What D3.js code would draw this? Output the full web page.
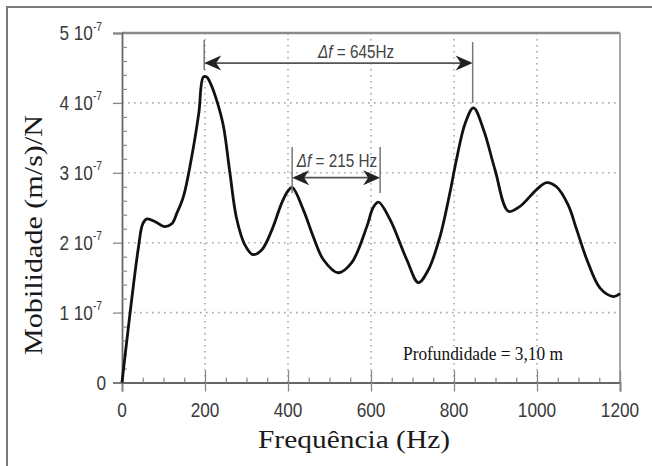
<!DOCTYPE html>
<html><head><meta charset="utf-8">
<script src="https://cdn.jsdelivr.net/npm/d3@7"></script>
<style>body{margin:0;background:#fff}svg{display:block}</style>
</head><body>
<script>
// ---- data ----
const freqHz = [0,40,50,60,80,102,120,132,148,168,185,196,204,214,228,244,260,276,296,315,337,361,385,400,410,437,460,485,521,553,590,605,618,646,686,714,738,766,790,806,827,847,871,899,931,959,999,1023,1047,1075,1096,1120,1152,1184,1200];
const mobility_e7 = [0,1.95,2.27,2.34,2.30,2.23,2.27,2.42,2.66,3.23,3.85,4.37,4.37,4.27,4.04,3.68,3.0,2.35,1.97,1.83,1.90,2.18,2.57,2.74,2.79,2.47,2.1,1.76,1.57,1.71,2.23,2.50,2.58,2.33,1.76,1.43,1.61,2.08,2.71,3.19,3.71,3.93,3.62,3.04,2.45,2.52,2.76,2.86,2.80,2.54,2.18,1.76,1.35,1.23,1.27];
const xTicks = [0,200,400,600,800,1000,1200];
const yTicks = [0,1,2,3,4,5];
const xTitle = "Frequência (Hz)";
const yTitle = "Mobilidade (m/s)/N";
const note = "Profundidade = 3,10 m";
// annotations (frequencies in Hz, levels in 1e-7 units)
const annFreqs = [[198,845],[410,622]];
const annLabels = ["645Hz","215 Hz"];
const annArrowY = [4.57,2.93];
const annLeftSpan = [[4.9,4.47],[3.37,2.71]];
const annRightSpan = [[4.87,4.0],[3.37,2.71]];

const W=652,H=466;
const svg=d3.select("body").append("svg").attr("width",W).attr("height",H);
const x=d3.scaleLinear().domain([0,1200]).range([122,620]);
const y=d3.scaleLinear().domain([0,5]).range([382.5,33]);

// outer frame
svg.append("rect").attr("x",7).attr("y",7).attr("width",700).attr("height",500)
  .attr("fill","none").attr("stroke","#7a7a7a").attr("stroke-width",2);

// grid
const grid=svg.append("g").attr("stroke","#a8a8a8").attr("stroke-width",1.6).attr("stroke-dasharray","1.6,4.4");
grid.selectAll("line.v").data(xTicks.filter(d=>d>0&&d<1200)).join("line")
  .attr("x1",d=>x(d)).attr("x2",d=>x(d)).attr("y1",y(5)).attr("y2",y(0));
grid.selectAll("line.h").data(yTicks.filter(d=>d>0&&d<5)).join("line")
  .attr("x1",x(0)).attr("x2",x(1200)).attr("y1",d=>y(d)).attr("y2",d=>y(d));

// frame lines
svg.append("line").attr("x1",x(0)).attr("x2",x(1200)).attr("y1",y(5)).attr("y2",y(5))
  .attr("stroke","#8a8a8a").attr("stroke-width",2.5);
svg.append("line").attr("x1",x(1200)).attr("x2",x(1200)).attr("y1",y(5)).attr("y2",y(0))
  .attr("stroke","#8a8a8a").attr("stroke-width",1.5);

// axes via d3
const xAxis=d3.axisBottom(x).tickValues(xTicks).tickSize(9).tickFormat("");
const gx=svg.append("g").attr("transform",`translate(0,${y(0)})`).call(xAxis);
gx.select(".domain").attr("stroke","#666").attr("stroke-width",1.8);
gx.selectAll(".tick line").attr("stroke","#888").attr("stroke-width",1.3).attr("y1",-12);
const xMinor=d3.axisBottom(x).tickValues(d3.range(50,1200,50).filter(d=>d%200!==0)).tickSize(-5).tickFormat("");
const gxm=svg.append("g").attr("transform",`translate(0,${y(0)})`).call(xMinor);
gxm.select(".domain").remove();gxm.selectAll(".tick line").attr("stroke","#888").attr("stroke-width",1.2);

const yAxis=d3.axisLeft(y).tickValues(yTicks).tickSize(9).tickFormat("");
const gy=svg.append("g").attr("transform",`translate(${x(0)},0)`).call(yAxis);
gy.select(".domain").attr("stroke","#666").attr("stroke-width",1.8);
gy.selectAll(".tick line").attr("stroke","#888").attr("stroke-width",1.3);
const yMinor=d3.axisLeft(y).tickValues(d3.range(0.2,5,0.2).filter(d=>Math.abs(d-Math.round(d))>0.01)).tickSize(-5).tickFormat("");
const gym=svg.append("g").attr("transform",`translate(${x(0)},0)`).call(yMinor);
gym.select(".domain").remove();gym.selectAll(".tick line").attr("stroke","#888").attr("stroke-width",1.2);

// tick labels (narrowed sans)
const sans="Liberation Sans, Arial, sans-serif";
const serif="'Liberation Serif', 'Times New Roman', serif";
svg.append("g").selectAll("g").data(xTicks).join("g")
  .attr("transform",d=>`translate(${x(d)},417) scale(0.82,1)`)
  .append("text").attr("text-anchor","middle").attr("font-family",sans).attr("font-size",21)
  .attr("fill","#3a3a3a").text(d=>d);
const yl=svg.append("g").selectAll("g").data(yTicks).join("g")
  .attr("transform",d=>`translate(${d===0?106:102},${y(d)+7}) scale(0.82,1)`)
  .append("text").attr("text-anchor","end").attr("font-family",sans).attr("font-size",21).attr("fill","#3a3a3a");
yl.each(function(d){
  const t=d3.select(this);
  if(d===0){t.text("0");return;}
  t.append("tspan").text(d+" 10");
  t.append("tspan").attr("font-size",12.5).attr("dy",-9.5).text("-7");
});

// curve
const pts=freqHz.map((f,i)=>[f,mobility_e7[i]]);
svg.append("path").datum(pts)
  .attr("d",d3.line().x(d=>x(d[0])).y(d=>y(d[1])).curve(d3.curveCatmullRom.alpha(0.5)))
  .attr("fill","none").attr("stroke","#111").attr("stroke-width",2.8).attr("stroke-linejoin","round");

// annotations
function head(px,py,dir){
  const L=17,h=7.5,n=5;
  return `M${px},${py} L${px+dir*L},${py-h} L${px+dir*(L-n)},${py} L${px+dir*L},${py+h} Z`;
}
annFreqs.forEach((ff,i)=>{
  const g=svg.append("g");
  const x1=x(ff[0]),x2=x(ff[1]),ay=y(annArrowY[i]);
  g.append("line").attr("x1",x1).attr("x2",x1).attr("y1",y(annLeftSpan[i][0])).attr("y2",y(annLeftSpan[i][1]))
    .attr("stroke","#777").attr("stroke-width",1.5);
  g.append("line").attr("x1",x2).attr("x2",x2).attr("y1",y(annRightSpan[i][0])).attr("y2",y(annRightSpan[i][1]))
    .attr("stroke","#777").attr("stroke-width",1.5);
  g.append("line").attr("x1",x1+10).attr("x2",x2-10).attr("y1",ay).attr("y2",ay)
    .attr("stroke","#555").attr("stroke-width",1.8);
  g.append("path").attr("d",head(x1,ay,1)).attr("fill","#222");
  g.append("path").attr("d",head(x2,ay,-1)).attr("fill","#222");
  const tg=g.append("g").attr("transform",`translate(${i===0?356:337},${ay-(i===0?5:11)}) scale(0.85,1)`);
  const t=tg.append("text").attr("text-anchor","middle").attr("font-family",sans).attr("font-size",18).attr("fill","#444");
  t.append("tspan").attr("font-style","italic").text("Δf");
  t.append("tspan").text(" = "+annLabels[i]);
});

// note
svg.append("text").attr("x",403).attr("y",360).attr("font-family",serif)
  .attr("font-size",18).attr("textLength",160).attr("lengthAdjust","spacingAndGlyphs").attr("fill","#111").text(note);

// axis titles
svg.append("text").attr("x",258).attr("y",448).attr("font-family",serif)
  .attr("font-size",26).attr("textLength",192).attr("lengthAdjust","spacingAndGlyphs").attr("fill","#1a1a1a").text(xTitle);
svg.append("text").attr("transform","translate(42,355) rotate(-90)").attr("font-family",serif)
  .attr("font-size",26).attr("textLength",240).attr("lengthAdjust","spacingAndGlyphs").attr("fill","#1a1a1a").text(yTitle);
</script>
</body></html>
